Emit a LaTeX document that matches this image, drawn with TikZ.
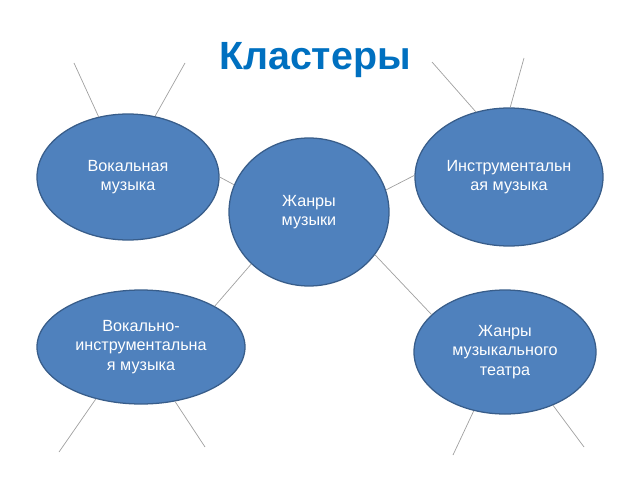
\documentclass[tikz,border=0pt]{standalone}
\usepackage{fontspec}
\setmainfont{Liberation Sans}
\usepackage{tikz}
\usetikzlibrary{shapes.geometric}
\definecolor{clblue}{RGB}{79,129,189}
\definecolor{cledge}{RGB}{56,93,138}
\definecolor{cltitle}{RGB}{0,112,192}
\definecolor{clline}{RGB}{160,160,160}

\begin{document}
\begin{tikzpicture}[
  genre/.style={ellipse, fill=clblue, draw=cledge, line width=0.9pt,
                inner sep=0pt, align=center, text=white,
                font=\fontsize{11.5}{13.8}\selectfont},
  link/.style={draw=clline, line width=0.5pt},
  heading/.style={font=\fontsize{28}{32}\selectfont\bfseries, text=cltitle}
]
  \useasboundingbox (0,0) rectangle (16,12);
  \node[heading] (title) at (7.875, 10.5) {Кластеры};
  \node[genre, minimum width=4.55cm, minimum height=3.15cm] (vocal)  at (3.2, 7.575) {Вокальная\\музыка};
  \node[genre, minimum width=4.0cm,  minimum height=3.7cm]  (genres) at (7.725, 6.7) {Жанры\\музыки};
  \node[genre, minimum width=4.7cm,  minimum height=3.45cm] (instr)  at (12.725, 7.575) {Инструментальн\\ая музыка};
  \node[genre, minimum width=5.2cm,  minimum height=2.85cm] (vocins) at (3.525, 3.325) {Вокально-\\инструментальна\\я музыка};
  \node[genre, minimum width=4.55cm, minimum height=3.1cm]  (theatre) at (12.625, 3.2) {Жанры\\музыкального\\театра};
  % free ends of the branches
  \coordinate (v1) at (1.85, 10.425);
  \coordinate (v2) at (4.625, 10.425);
  \coordinate (i1) at (10.8, 10.45);
  \coordinate (i2) at (13.1, 10.55);
  \coordinate (b1) at (1.475, 0.7);
  \coordinate (b2) at (5.125, 0.825);
  \coordinate (t1) at (11.325, 0.625);
  \coordinate (t2) at (14.6, 0.825);
  \draw[link] (vocal.0)    -- (genres.160);
  \draw[link] (genres.16)  -- (instr.179);
  \draw[link] (genres.-138) -- (vocins.29);
  \draw[link] (genres.-33) -- (theatre.153);
  \draw[link] (v1) -- (vocal.116);
  \draw[link] (v2) -- (vocal.66);
  \draw[link] (i1) -- (instr.117);
  \draw[link] (i2) -- (instr.89);
  \draw[link] (b1) -- (vocins.-131);
  \draw[link] (b2) -- (vocins.-58);
  \draw[link] (t1) -- (theatre.-118);
  \draw[link] (t2) -- (theatre.-48);
\end{tikzpicture}
\end{document}
